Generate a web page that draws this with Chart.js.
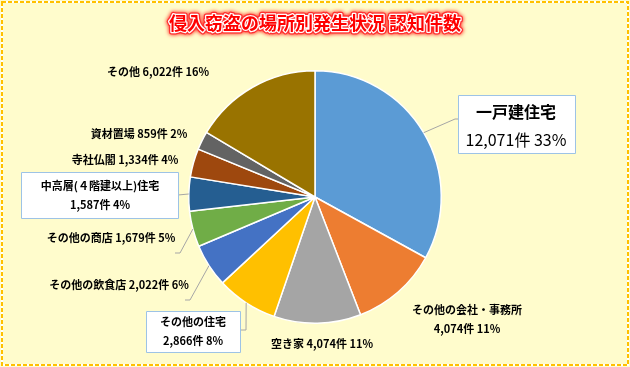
<!DOCTYPE html>
<html lang="ja">
<head>
	<meta charset="UTF-8">
	<meta name="viewport" content="width=device-width, initial-scale=1.0">
	<title>侵入窃盗の場所別発生状況</title>
	<script src="https://cdn.jsdelivr.net/npm/chart.js"></script>
	<style>
		html, body { margin: 0; padding: 0; background: #FFFCCC; }
		#wrap { width: 630px; height: 367px; }
	</style>
</head>
<body>
	<div id="wrap">
		<canvas id="grafico_pizza" width="630" height="367"></canvas>
	</div>
	<script>

		const titulo = '侵入窃盗の場所別発生状況 認知件数';
		const categorias = ['一戸建住宅', 'その他の会社・事務所', '空き家', 'その他の住宅', 'その他の飲食店', 'その他の商店', '中高層(４階建以上)住宅', '寺社仏閣', '資材置場', 'その他'];
		const valores = [12071, 4074, 4074, 2866, 2022, 1679, 1587, 1334, 859, 6022];
		const cores = ['#5B9BD5', '#ED7D31', '#A5A5A5', '#FFC000', '#4472C4', '#70AD47', '#255E91', '#9E480E', '#636363', '#997300'];

		const FONTE = '"Noto Sans CJK JP", "Noto Sans", sans-serif';
		const total = valores.reduce((a, b) => a + b, 0);
		const pct = (v) => Math.round(v / total * 100) + '%';
		const num = (v) => v.toLocaleString('en-US') + '件';

		// label placement: center x, baseline-ish y per line, optional box and leader elbow
		const rotulos = [
			{ linhas: (i) => [categorias[i], num(valores[i]) + ' ' + pct(valores[i])], x: 516, y: [112, 140], tam: 16, caixa: [458, 95, 117, 58], guia: [[455, 119], [458, 119]] },
			{ linhas: (i) => [categorias[i], num(valores[i]) + ' ' + pct(valores[i])], x: 467, y: [310, 329] },
			{ linhas: (i) => [categorias[i] + ' ' + num(valores[i]) + ' ' + pct(valores[i])], x: 322, y: [344] },
			{ linhas: (i) => [categorias[i], num(valores[i]) + ' ' + pct(valores[i])], x: 193, y: [322, 341], caixa: [146, 311, 94, 41], guia: [[246, 330], [240, 330]] },
			{ linhas: (i) => [categorias[i] + ' ' + num(valores[i]) + ' ' + pct(valores[i])], x: 119, y: [285], guia: [[190, 300], [185, 300]] },
			{ linhas: (i) => [categorias[i] + ' ' + num(valores[i]) + ' ' + pct(valores[i])], x: 111, y: [238], guia: [[180, 253], [175, 253]] },
			{ linhas: (i) => ['中高層(４階建以上)住宅', num(valores[i]) + ' ' + pct(valores[i])], x: 100, y: [186, 205], caixa: [21, 172, 157, 46], guia: [[178, 195]] },
			{ linhas: (i) => [categorias[i] + ' ' + num(valores[i]) + ' ' + pct(valores[i])], x: 125, y: [160] },
			{ linhas: (i) => [categorias[i] + ' ' + num(valores[i]) + ' ' + pct(valores[i])], x: 139, y: [134] },
			{ linhas: (i) => [categorias[i] + ' ' + num(valores[i]) + ' ' + pct(valores[i])], x: 158, y: [72] }
		];

		const fundo = {
			id: 'fundo',
			beforeDraw: (chart) => {
				const ctx = chart.ctx;
				ctx.save();
				ctx.fillStyle = '#FFFCCC';
				ctx.fillRect(0, 0, chart.width, chart.height);
				ctx.lineWidth = 2;
				ctx.strokeStyle = '#FFFFFF';
				ctx.strokeRect(2, 2, chart.width - 4, chart.height - 4);
				ctx.setLineDash([4, 2]);
				ctx.strokeStyle = '#FFC000';
				ctx.strokeRect(2, 2, chart.width - 4, chart.height - 4);
				ctx.restore();
			}
		};

		const textos = {
			id: 'textos',
			afterDraw: (chart) => {
				const ctx = chart.ctx;
				ctx.save();

				// title
				ctx.font = 'bold 18px ' + FONTE;
				ctx.textAlign = 'center';
				ctx.textBaseline = 'middle';
				ctx.lineJoin = 'round';
				ctx.shadowColor = '#FF0000';
				ctx.shadowBlur = 4;
				ctx.strokeStyle = '#FF3030';
				ctx.lineWidth = 5;
				ctx.strokeText(titulo, 315, 23);
				ctx.shadowBlur = 0;
				ctx.strokeStyle = '#FFFFFF';
				ctx.lineWidth = 2.5;
				ctx.strokeText(titulo, 315, 23);
				ctx.fillStyle = '#FF0000';
				ctx.fillText(titulo, 315, 23);

				const arcos = chart.getDatasetMeta(0).data;
				rotulos.forEach((r, i) => {
					const arco = arcos[i];
					if (r.guia) {
						const meio = (arco.startAngle + arco.endAngle) / 2;
						ctx.beginPath();
						ctx.moveTo(arco.x + Math.cos(meio) * arco.outerRadius, arco.y + Math.sin(meio) * arco.outerRadius);
						r.guia.forEach(p => ctx.lineTo(p[0], p[1]));
						ctx.strokeStyle = '#A6A6A6';
						ctx.lineWidth = 1;
						ctx.stroke();
					}
					if (r.caixa) {
						const c = r.caixa;
						ctx.fillStyle = '#FFFFFF';
						ctx.fillRect(c[0], c[1], c[2], c[3]);
						ctx.strokeStyle = '#9DC3E6';
						ctx.lineWidth = 1;
						ctx.strokeRect(c[0] + 0.5, c[1] + 0.5, c[2], c[3]);
					}
					const linhas = r.linhas(i);
					ctx.fillStyle = '#000000';
					ctx.textAlign = 'center';
					ctx.textBaseline = 'middle';
					linhas.forEach((t, k) => {
						if (r.tam) {
							ctx.font = (k === 0 ? 'bold ' : '') + r.tam + 'px ' + FONTE;
						} else {
							ctx.font = 'bold 11px ' + FONTE;
						}
						ctx.fillText(t, r.x, r.y[k]);
					});
				});
				ctx.restore();
			}
		};

		new Chart(document.querySelector('#grafico_pizza'), {
			type: 'pie',
			data: {
				labels: categorias,
				datasets: [{
					data: valores,
					backgroundColor: cores,
					borderColor: '#FFFFFF',
					borderWidth: 1.5,
					hoverOffset: 0
				}]
			},
			options: {
				responsive: false,
				animation: false,
				events: [],
				layout: { padding: { left: 188, right: 188, top: 70, bottom: 43 } },
				plugins: {
					legend: { display: false },
					tooltip: { enabled: false },
					title: { display: false }
				}
			},
			plugins: [fundo, textos]
		});

	</script>
</body>
</html>
